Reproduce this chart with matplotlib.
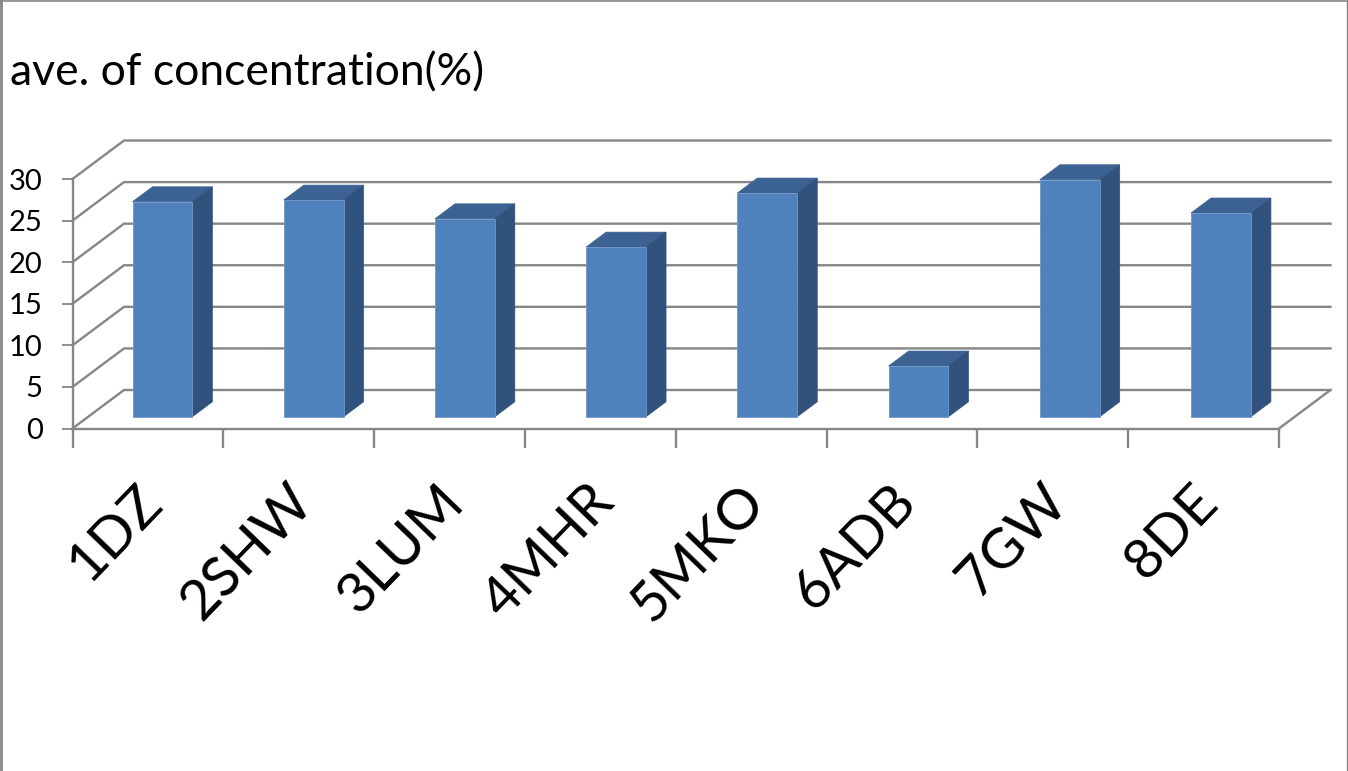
import matplotlib
matplotlib.use("Agg")
import matplotlib.pyplot as plt
from matplotlib.lines import Line2D
from matplotlib.patches import Polygon
from matplotlib.transforms import ScaledTranslation
import numpy as np

plt.rcParams['font.family'] = ['Lato', 'DejaVu Sans']

# data
labels = ['1DZ', '2SHW', '3LUM', '4MHR', '5MKO', '6ADB', '7GW', '8DE']
values = [25.85, 26.05, 23.8, 20.4, 26.9, 6.1, 28.5, 24.5]
yticks = [0, 5, 10, 15, 20, 25, 30]

W, H = 1348, 771
GRID = '#868686'

fig = plt.figure(figsize=(W/100, H/100), dpi=100, facecolor='white')
# front plane of the 3d box, pixel position
left, right, top, bottom = 72.5, 1279, 179, 428.5
ax = fig.add_axes([left/W, 1-bottom/H, (right-left)/W, (bottom-top)/H])
ax.set_xlim(0, 8)
ax.set_ylim(0, 30)
ax.patch.set_visible(False)

# oblique offset for the full depth of the box, in data units
DX = 51.5*8/(right-left)
DY = 38.5*30/(bottom-top)

def proj(x, y, d):
    return (x + DX*d, y + DY*d)

# walls
for v in yticks:
    p0 = proj(0, v, 0)
    p1 = proj(0, v, 1)
    p2 = proj(8, v, 1)
    ax.plot([p0[0], p1[0], p2[0]], [p0[1], p1[1], p2[1]], color=GRID, lw=1.7,
            clip_on=False, zorder=1, solid_joinstyle='miter')
p0 = proj(8, 0, 0)
p1 = proj(8, 0, 1)
ax.plot([p0[0], p1[0]], [p0[1], p1[1]], color=GRID, lw=1.7, clip_on=False, zorder=1)

# bars
bar_w = 0.397
step = 1.0027
d0, d1 = 0.306, 0.694
for i, v in enumerate(values):
    xc = 0.492 + i*step
    xa = xc - bar_w/2
    xb = xc + bar_w/2
    top_face = [proj(xa, v, d0), proj(xb, v, d0), proj(xb, v, d1), proj(xa, v, d1)]
    side_face = [proj(xb, 0, d0), proj(xb, 0, d1), proj(xb, v, d1), proj(xb, v, d0)]
    front_face = [proj(xa, 0, d0), proj(xb, 0, d0), proj(xb, v, d0), proj(xa, v, d0)]
    ax.add_patch(Polygon(top_face, fc='#3B6292', ec='#3B6292', lw=0.5, zorder=3, clip_on=False))
    ax.add_patch(Polygon(side_face, fc='#30527C', ec='#30527C', lw=0.5, zorder=3, clip_on=False))
    ax.add_patch(Polygon(front_face, fc='#4F81BD', ec='#6F97C9', lw=0.6, zorder=4, clip_on=False))

# axes
for s in ['top', 'right']:
    ax.spines[s].set_visible(False)
for s in ['left', 'bottom']:
    ax.spines[s].set_color(GRID)
    ax.spines[s].set_linewidth(1.7)
    ax.spines[s].set_zorder(2)
ax.set_yticks(yticks)
ax.tick_params(axis='y', length=8, width=1.3, color=GRID, labelsize=21, pad=13.5)
ax.set_xticks(np.arange(9), minor=True)
ax.tick_params(axis='x', which='minor', length=14, width=1.7, color=GRID)
ax.set_xticks(np.arange(8)+0.5)
ax.set_xticklabels(labels, rotation=46, ha='right', va='top', rotation_mode='anchor',
                   fontsize=40.5)
ax.tick_params(axis='x', which='major', length=0, pad=34)
shift = ScaledTranslation(-13/100, 0, fig.dpi_scale_trans)
for t in ax.get_xticklabels():
    t.set_transform(t.get_transform() + shift)

# title
fig.text(10/W, 1-85/H, 'ave. of concentration(%)', fontsize=32, color='black',
         ha='left', va='baseline')

# frame, no bottom edge
fig.add_artist(Line2D([1/W, 1/W], [0, 1], color=GRID, lw=2.0))
fig.add_artist(Line2D([0, 1], [1-0.5/H, 1-0.5/H], color=GRID, lw=1.2))
fig.add_artist(Line2D([1-0.7/W, 1-0.7/W], [0, 1], color=GRID, lw=1.0))

fig.savefig('out.png', dpi=100)
